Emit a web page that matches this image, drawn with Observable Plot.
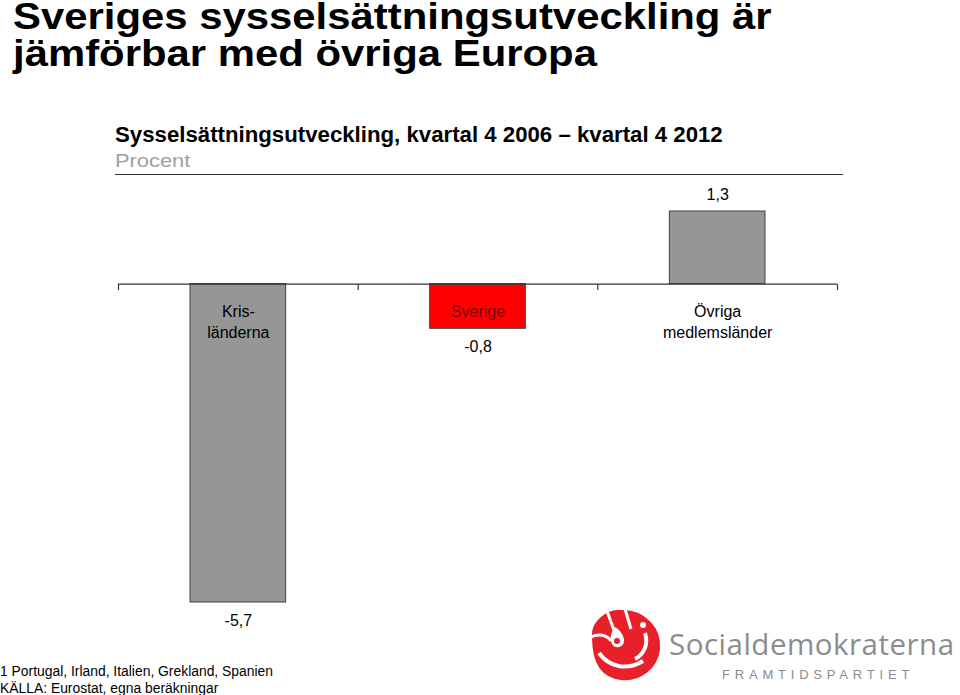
<!DOCTYPE html>
<html><head><meta charset="utf-8">
<script src="https://cdn.jsdelivr.net/npm/d3@7"></script>
<script src="https://cdn.jsdelivr.net/npm/@observablehq/plot@0.6"></script>
<style>
body{margin:0;background:#fff;}
#wrap{position:relative;width:960px;height:695px;overflow:hidden;font-family:"Liberation Sans",Arial,sans-serif;color:#000;}
.title{position:absolute;left:13px;font-size:36px;font-weight:bold;line-height:30px;white-space:nowrap;transform:scaleX(1.163);transform-origin:0 0;}
#t1{top:2px;}
#t2{top:38.5px;}
#sub{position:absolute;left:115px;top:122px;font-size:22px;font-weight:bold;white-space:nowrap;transform:scaleX(1.01);transform-origin:0 0;}
#unit{position:absolute;left:115px;top:150px;font-size:19px;color:#a0a0a0;white-space:nowrap;transform:scaleX(1.15);transform-origin:0 0;}
#hr{position:absolute;left:115px;top:174px;width:728px;height:0;border-top:1.5px solid #333;}
#chart{position:absolute;left:0;top:0;}
#foot{position:absolute;left:0;top:662px;font-size:15.5px;line-height:17px;white-space:nowrap;transform:scaleX(0.895);transform-origin:0 0;}
#logoText{position:absolute;left:669px;top:623px;font-family:"Open Sans","Liberation Sans",sans-serif;font-size:29.5px;color:#8c8c8c;white-space:nowrap;letter-spacing:0.5px;}
#logoSub{position:absolute;left:722px;top:667px;font-size:13px;color:#8c8c8c;letter-spacing:4.8px;white-space:nowrap;}
#rose{position:absolute;left:585px;top:603px;}
</style></head><body>
<div id="wrap">
<div id="chart"></div>
<div class="title" id="t1">Sveriges sysselsättningsutveckling är</div>
<div class="title" id="t2">jämförbar med övriga Europa</div>
<div id="sub">Sysselsättningsutveckling, kvartal 4 2006 – kvartal 4 2012</div>
<div id="unit">Procent</div>
<div id="hr"></div>
<div id="foot">1 Portugal, Irland, Italien, Grekland, Spanien<br>KÄLLA: Eurostat, egna beräkningar</div>
<svg id="rose" width="80" height="82" viewBox="0 0 80 82">
  <path d="M6 34 C4 18 22 4 38 6 C60 6 78 24 76 46 C74 66 56 80 36 78 C16 76 6 60 6 34 Z" fill="#e8202a" stroke="#fff" stroke-width="2"/>
  <path d="M22 8 L30 30" stroke="#fff" stroke-width="3" fill="none"/>
  <path d="M40 6 L46 26" stroke="#fff" stroke-width="3" fill="none"/>
  <path d="M6 34 C14 30 22 32 26 38" stroke="#fff" stroke-width="3" fill="none"/>
  <path d="M14 50 C24 64 42 68 58 58" stroke="#fff" stroke-width="4" fill="none"/>
  <path d="M30 24 C22 34 26 46 34 44 C42 42 40 30 30 24 Z" fill="#fff"/>
  <circle cx="32" cy="38" r="3" fill="#e8202a"/>
  <path d="M60 30 C64 42 58 52 50 56" stroke="#fff" stroke-width="4" fill="none"/>
  <circle cx="58" cy="22" r="3" fill="#fff"/>
</svg>
<div id="logoText">Socialdemokraterna</div>
<div id="logoSub">FRAMTIDSPARTIET</div>
</div>
<script>
const categories = ["Kris-\nländerna", "Sverige", "Övriga\nmedlemsländer"];
const values = [-5.7, -0.8, 1.3];
const highlighted = "Sverige";

const data = categories.map((c, i) => ({c, i, v: values[i], hl: c === highlighted}));
const boundaries = d3.range(categories.length + 1);
const fmt = v => d3.format(".1f")(v).replace(".", ",").replace("\u2212", "-");
const tickSymbol = {draw(ctx) { ctx.moveTo(0, 0); ctx.lineTo(0, 6); }};

const chart = Plot.plot({
  width: 960, height: 695,
  marginLeft: 118, marginRight: 123, marginTop: 211, marginBottom: 93,
  x: {domain: [0, categories.length], axis: null},
  y: {domain: [d3.min(values), d3.max(values)], axis: null},
  style: {fontFamily: "'Liberation Sans', Arial, sans-serif", fontSize: "16px", background: "transparent", overflow: "visible"},
  marks: [
    Plot.rect(data, {x1: "i", x2: d => d.i + 1, y1: () => 0, y2: "v", insetLeft: 72, insetRight: 72,
      fill: d => d.hl ? "#ff0000" : "#969696", stroke: "#404040", strokeWidth: 1}),
    Plot.ruleY([0], {stroke: "#333", strokeWidth: 1.2}),
    Plot.dot(boundaries, {x: d => d, y: () => 0, symbol: tickSymbol, r: 3, fill: "none", stroke: "#333", strokeWidth: 1.2}),
    Plot.text(data, {x: d => d.i + 0.5, y: () => 0, text: "c", lineAnchor: "top", dy: 18, lineHeight: 1.3,
      fill: d => d.hl ? "#7a0000" : "#000", fontSize: 16}),
    Plot.text(data.filter(d => d.v >= 0), {x: d => d.i + 0.5, y: "v", text: d => fmt(d.v), dy: -17, fontSize: 16, fill: "#000"}),
    Plot.text(data.filter(d => d.v < 0), {x: d => d.i + 0.5, y: "v", text: d => fmt(d.v), dy: 18, fontSize: 16, fill: "#000"})
  ]
});
document.getElementById("chart").appendChild(chart);
</script>
</body></html>
